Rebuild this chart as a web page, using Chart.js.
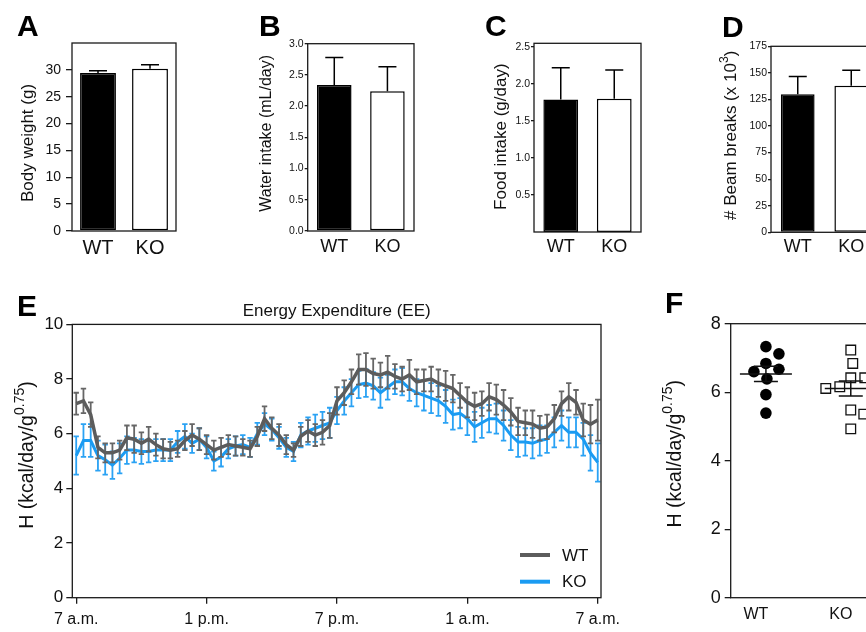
<!DOCTYPE html>
<html>
<head>
<meta charset="utf-8">
<title>WT vs KO metabolic phenotype</title>
<script src="https://cdn.jsdelivr.net/npm/chart.js@4.4.1/dist/chart.umd.min.js"></script>
<style>
  html, body { margin: 0; padding: 0; background: #fff; overflow: hidden; }
  #page { position: relative; width: 866px; height: 632px; overflow: hidden; }
  #page canvas { position: absolute; }
  .tag { position: absolute; font: bold 30px "Liberation Sans", Arial, sans-serif; line-height: 30px; color: #000; }
</style>
</head>
<body>
<div id="page">
  <canvas id="chartA" width="190" height="270" style="left:0px;top:0px"></canvas>
  <canvas id="chartB" width="190" height="270" style="left:240px;top:0px"></canvas>
  <canvas id="chartC" width="190" height="270" style="left:465px;top:0px"></canvas>
  <canvas id="chartD" width="200" height="270" style="left:690px;top:0px"></canvas>
  <canvas id="chartE" width="640" height="342" style="left:0px;top:290px"></canvas>
  <canvas id="chartF" width="260" height="342" style="left:640px;top:290px"></canvas>
  <div class="tag" style="left:17px;top:11px">A</div>
  <div class="tag" style="left:259px;top:11px">B</div>
  <div class="tag" style="left:485px;top:11px">C</div>
  <div class="tag" style="left:722px;top:12px">D</div>
  <div class="tag" style="left:17px;top:291px">E</div>
  <div class="tag" style="left:665px;top:288px">F</div>
</div>
<script>
// groups + panel A-D (mean, SEM)
const groups = ['WT', 'KO'];
const bodyWeight = [29.4, 30.2];
const bodyWeightSem = [0.43, 0.75];
const waterIntake = [2.34, 2.24];
const waterIntakeSem = [0.44, 0.39];
const foodIntake = [1.79, 1.80];
const foodIntakeSem = [0.43, 0.39];
const beamBreaks = [130, 138];
const beamBreaksSem = [16.7, 14.4];

// tick values / labels
const bodyWeightTicks = [0, 5, 10, 15, 20, 25, 30];
const waterTicks = [0, 0.5, 1, 1.5, 2, 2.5, 3];
const foodTicks = [0.5, 1, 1.5, 2, 2.5];
const beamTicks = [0, 25, 50, 75, 100, 125, 150, 175];
const eeTicks = [0, 2, 4, 6, 8, 10];
const hourTicks = [0, 6, 12, 18, 24];
const hourLabels = ['7 a.m.', '1 p.m.', '7 p.m.', '1 a.m.', '7 a.m.'];
const hTicks = [0, 2, 4, 6, 8];

// panel E: energy expenditure, 20 min bins from 7 a.m. to 7 a.m.
const binMinutes = 20;
const wtEE = [7.1, 7.2, 6.7, 5.5, 5.3, 5.3, 5.4, 5.85, 5.8, 5.65,
  5.8, 5.6, 5.45, 5.4, 5.45, 5.75, 5.95, 5.8, 5.6, 5.4,
  5.5, 5.6, 5.55, 5.5, 5.45, 5.9, 6.55, 6.2, 5.95, 5.6,
  5.4, 5.9, 6.1, 5.95, 6.05, 6.3, 7.2, 7.5, 7.9, 8.35,
  8.35, 8.2, 8.15, 8.25, 8.1, 8.0, 8.15, 7.9, 7.95, 8.0,
  7.85, 7.75, 7.65, 7.4, 7.15, 7.0, 7.1, 7.35, 7.25, 7.05,
  6.8, 6.45, 6.4, 6.35, 6.2, 6.25, 6.55, 7.1, 7.35, 7.15,
  6.5, 6.35, 6.5];
const wtEESem = [0.40, 0.45, 0.45, 0.40, 0.35, 0.35, 0.35, 0.45, 0.50, 0.40,
  0.45, 0.40, 0.35, 0.30, 0.30, 0.35, 0.40, 0.40, 0.35, 0.35,
  0.35, 0.35, 0.35, 0.30, 0.30, 0.35, 0.45, 0.40, 0.40, 0.35,
  0.25, 0.35, 0.40, 0.40, 0.45, 0.45, 0.50, 0.45, 0.45, 0.55,
  0.60, 0.55, 0.45, 0.60, 0.45, 0.45, 0.55, 0.45, 0.40, 0.45,
  0.50, 0.55, 0.50, 0.45, 0.55, 0.50, 0.45, 0.50, 0.55, 0.55,
  0.50, 0.50, 0.45, 0.50, 0.45, 0.45, 0.50, 0.45, 0.50, 0.45,
  0.60, 0.70, 0.75];
const koEE = [5.2, 5.75, 5.75, 5.2, 5.05, 4.85, 5.1, 5.4, 5.4, 5.35,
  5.35, 5.4, 5.4, 5.4, 5.7, 5.9, 5.65, 5.8, 5.5, 5.0,
  5.15, 5.45, 5.55, 5.6, 5.5, 6.0, 6.35, 6.15, 5.85, 5.5,
  5.35, 5.95, 6.1, 6.2, 6.3, 6.4, 6.85, 7.2, 7.5, 7.8,
  7.85, 7.75, 7.5, 7.7, 7.9, 7.9, 7.65, 7.5, 7.4, 7.3,
  7.2, 7.0, 6.7, 6.75, 6.55, 6.25, 6.4, 6.55, 6.55, 6.3,
  5.95, 5.7, 5.7, 5.65, 5.75, 5.8, 6.05, 6.3, 6.05, 6.05,
  5.8, 5.3, 4.95];
const koEESem = [0.70, 0.60, 0.60, 0.55, 0.55, 0.50, 0.55, 0.50, 0.45, 0.45,
  0.40, 0.40, 0.40, 0.40, 0.40, 0.45, 0.35, 0.40, 0.40, 0.35,
  0.35, 0.35, 0.35, 0.35, 0.35, 0.40, 0.40, 0.40, 0.40, 0.35,
  0.35, 0.45, 0.50, 0.50, 0.50, 0.55, 0.50, 0.50, 0.50, 0.50,
  0.50, 0.50, 0.55, 0.45, 0.45, 0.50, 0.45, 0.50, 0.55, 0.55,
  0.55, 0.60, 0.55, 0.55, 0.60, 0.55, 0.55, 0.50, 0.55, 0.55,
  0.55, 0.55, 0.50, 0.55, 0.55, 0.50, 0.55, 0.55, 0.55, 0.55,
  0.60, 0.65, 0.70];

// panel F: per mouse H
const wtH = [7.33, 7.12, 6.84, 6.67, 6.60, 6.39, 5.93, 5.39];
const koH = [7.23, 6.84, 6.42, 6.42, 6.16, 6.13, 6.11, 5.48, 5.36, 4.93];

const FONT = '"Liberation Sans", Arial, sans-serif';
Chart.defaults.font.family = FONT;
Chart.defaults.color = '#111';

//-------------------------------------------------------------------------------------
// plugins

function drawErrors(chart, index, o) {
    var ds = chart.data.datasets[index];
    if (!ds.errors) return;
    var meta = chart.getDatasetMeta(index);
    var y = chart.scales.y;
    var ctx = chart.ctx;
    ctx.save();
    ctx.strokeStyle = o.color || ds.errorColor || ds.borderColor;
    ctx.lineWidth = o.width;
    meta.data.forEach(function (el, i) {
        var v = typeof ds.data[i] === 'object' ? ds.data[i].y : ds.data[i];
        var top = y.getPixelForValue(v + ds.errors[i]);
        var bot = o.upOnly ? y.getPixelForValue(v) : y.getPixelForValue(v - ds.errors[i]);
        ctx.beginPath();
        ctx.moveTo(el.x, top); ctx.lineTo(el.x, bot);
        ctx.moveTo(el.x - o.cap, top); ctx.lineTo(el.x + o.cap, top);
        if (!o.upOnly) { ctx.moveTo(el.x - o.cap, bot); ctx.lineTo(el.x + o.cap, bot); }
        ctx.stroke();
    });
    ctx.restore();
}

const errorBars = {
    id: 'errorBars',
    beforeDatasetDraw: function (chart, args, o) { if (o.cap && o.under) drawErrors(chart, args.index, o); },
    afterDatasetDraw: function (chart, args, o) { if (o.cap && !o.under) drawErrors(chart, args.index, o); }
};

const frame = {
    id: 'frame',
    afterDatasetsDraw: function (chart) {
        var a = chart.chartArea, ctx = chart.ctx;
        ctx.save();
        ctx.strokeStyle = '#1a1a1a';
        ctx.lineWidth = 1.3;
        ctx.strokeRect(a.left, a.top, a.right - a.left, a.bottom - a.top);
        ctx.restore();
    }
};

// rotated y title with optional superscript
const yTitle = {
    id: 'yTitle',
    afterDraw: function (chart, args, o) {
        if (!o.text) return;
        var ctx = chart.ctx, a = chart.chartArea;
        var small = o.size * 0.72;
        ctx.save();
        ctx.font = o.size + 'px ' + FONT;
        var w1 = ctx.measureText(o.text).width;
        var w3 = o.tail ? ctx.measureText(o.tail).width : 0;
        ctx.font = small + 'px ' + FONT;
        var w2 = o.sup ? ctx.measureText(o.sup).width : 0;
        ctx.translate(a.left - o.offset, (a.top + a.bottom) / 2 + (o.dy || 0));
        ctx.rotate(-Math.PI / 2);
        ctx.fillStyle = '#111';
        ctx.textBaseline = 'middle';
        ctx.textAlign = 'left';
        var x = -(w1 + w2 + w3) / 2;
        ctx.font = o.size + 'px ' + FONT;
        ctx.fillText(o.text, x, 0);
        x += w1;
        if (o.sup) {
            ctx.font = small + 'px ' + FONT;
            ctx.fillText(o.sup, x, -o.size * 0.4);
            x += w2;
        }
        if (o.tail) {
            ctx.font = o.size + 'px ' + FONT;
            ctx.fillText(o.tail, x, 0);
        }
        ctx.restore();
    }
};

Chart.register(errorBars, frame, yTitle);

// legend drawn inside plot, bottom right (panel E)
const insideLegend = {
    id: 'insideLegend',
    afterDraw: function (chart, args, o) {
        var ctx = chart.ctx, a = chart.chartArea;
        ctx.save();
        ctx.font = o.size + 'px ' + FONT;
        ctx.textBaseline = 'middle';
        ctx.fillStyle = '#111';
        chart.data.datasets.forEach(function (ds, i) {
            var y = a.bottom - o.bottom + i * o.gap;
            ctx.strokeStyle = ds.borderColor;
            ctx.lineWidth = 4;
            ctx.beginPath();
            ctx.moveTo(a.right - o.right, y);
            ctx.lineTo(a.right - o.right + o.len, y);
            ctx.stroke();
            ctx.fillText(ds.label, a.right - o.right + o.len + 12, y + 1);
        });
        ctx.restore();
    }
};

// mean + SEM bars from the points (panel F)
const meanSem = {
    id: 'meanSem',
    afterDatasetsDraw: function (chart) {
        var ctx = chart.ctx, xs = chart.scales.x, ys = chart.scales.y;
        ctx.save();
        ctx.strokeStyle = '#111';
        ctx.lineWidth = 1.5;
        chart.data.datasets.forEach(function (ds, k) {
            var vals = ds.data.map(function (p) { return p.y; });
            var n = vals.length;
            var mean = vals.reduce(function (s, v) { return s + v; }, 0) / n;
            var sd = Math.sqrt(vals.reduce(function (s, v) { return s + (v - mean) * (v - mean); }, 0) / (n - 1));
            var sem = sd / Math.sqrt(n);
            var cx = xs.getPixelForValue(k + 1);
            var ym = ys.getPixelForValue(mean), yt = ys.getPixelForValue(mean + sem), yb = ys.getPixelForValue(mean - sem);
            ctx.beginPath();
            ctx.moveTo(cx - 26, ym); ctx.lineTo(cx + 26, ym);
            ctx.moveTo(cx, yt); ctx.lineTo(cx, yb);
            ctx.moveTo(cx - 12, yt); ctx.lineTo(cx + 12, yt);
            ctx.moveTo(cx - 12, yb); ctx.lineTo(cx + 12, yb);
            ctx.stroke();
        });
        ctx.restore();
    }
};

//-------------------------------------------------------------------------------------
// helpers

function yAxis(ticks, max, o) {
    return {
        min: 0,
        max: max,
        afterBuildTicks: function (s) { s.ticks = ticks.map(function (v) { return { value: v }; }); },
        afterFit: function (s) { s.width = o.width; },
        grid: { display: true, drawOnChartArea: false, drawTicks: true, tickLength: o.tickLength, color: '#1a1a1a', lineWidth: 1.3 },
        border: { display: false },
        ticks: { padding: o.padding, font: { size: o.font }, color: '#111', callback: o.fmt || function (v) { return v; } }
    };
}

function barPanel(id, values, errors, ticks, max, cfg) {
    return new Chart(document.getElementById(id), {
        type: 'bar',
        data: {
            labels: groups,
            datasets: [{
                data: values,
                errors: errors,
                backgroundColor: ['#000', '#fff'],
                borderColor: '#000',
                borderWidth: 1.5,
                borderSkipped: false,
                barPercentage: cfg.bar,
                categoryPercentage: 1
            }]
        },
        options: {
            responsive: false,
            animation: false,
            layout: { padding: cfg.pad },
            plugins: {
                legend: { display: false },
                tooltip: { enabled: false },
                errorBars: { cap: 9, width: 1.5, color: '#000', upOnly: true },
                yTitle: cfg.title
            },
            scales: {
                x: {
                    grid: { display: false, drawTicks: false },
                    border: { display: false },
                    afterFit: function (s) { s.height = cfg.xh; },
                    ticks: { padding: cfg.xpad, font: { size: cfg.xfont }, color: '#111' }
                },
                y: yAxis(ticks, max, cfg.y)
            }
        }
    });
}

// simple beeswarm: shift overlapping points sideways, using the chart's scales
function swarm(chart) {
    var xs = chart.scales.x, ys = chart.scales.y;
    chart.data.datasets.forEach(function (ds, k) {
        var d = ds.swarmSize;
        var cx = xs.getPixelForValue(k + 1);
        var placed = [];
        ds.data.forEach(function (p) {
            var py = ys.getPixelForValue(p.y);
            var off = 0;
            for (var n = 0; n < 80; n++) {
                off = (n % 2 ? 1 : -1) * Math.ceil(n / 2);
                var ok = placed.every(function (q) { return Math.hypot(q.x - off, q.y - py) >= d; });
                if (ok) break;
            }
            placed.push({ x: off, y: py });
            p.x = xs.getValueForPixel(cx + off);
        });
    });
    chart.update();
}

//-------------------------------------------------------------------------------------
// A - D

barPanel('chartA', bodyWeight, bodyWeightSem, bodyWeightTicks, 35, {
    bar: 0.69, pad: { left: 40, top: 43, right: 14, bottom: 0 }, xh: 39, xpad: 5, xfont: 20,
    y: { width: 32, tickLength: 6, padding: 5, font: 14 },
    title: { text: 'Body weight (g)', size: 17, offset: 44, dy: 6 }
});

barPanel('chartB', waterIntake, waterIntakeSem, waterTicks, 3, {
    bar: 0.65, pad: { left: 37.7, top: 43.7, right: 16, bottom: 0 }, xh: 39, xpad: 5, xfont: 18,
    y: { width: 30, tickLength: 3, padding: 1, font: 10.5, fmt: function (v) { return v.toFixed(1); } },
    title: { text: 'Water intake (mL/day)', size: 16, offset: 41, dy: -4 }
});

barPanel('chartC', foodIntake, foodIntakeSem, foodTicks, 2.55, {
    bar: 0.65, pad: { left: 39, top: 43.3, right: 14, bottom: 0 }, xh: 38, xpad: 4, xfont: 18,
    y: { width: 30, tickLength: 3, padding: 1, font: 10.5, fmt: function (v) { return v.toFixed(1); } },
    title: { text: 'Food intake (g/day)', size: 17, offset: 32.3, dy: -1 }
});

barPanel('chartD', beamBreaks, beamBreaksSem, beamTicks, 175, {
    bar: 0.63, pad: { left: 51, top: 46.3, right: 12, bottom: 0 }, xh: 37.7, xpad: 4, xfont: 18,
    y: { width: 30, tickLength: 3, padding: 1, font: 10.5 },
    title: { text: '# Beam breaks (x 10', sup: '3', tail: ')', size: 17, offset: 39.3, dy: -4 }
});

//-------------------------------------------------------------------------------------
// E - energy expenditure over 24 h

function toPoints(values) {
    return values.map(function (v, i) { return { x: i * binMinutes / 60, y: v }; });
}

new Chart(document.getElementById('chartE'), {
    type: 'line',
    data: {
        datasets: [
            { label: 'WT', data: toPoints(wtEE), errors: wtEESem, borderColor: '#5c5c5c', errorColor: '#666',
              borderWidth: 3.5, pointRadius: 0, tension: 0 },
            { label: 'KO', data: toPoints(koEE), errors: koEESem, borderColor: '#1a9bf2', errorColor: '#2aa2f4',
              borderWidth: 3, pointRadius: 0, tension: 0 }
        ]
    },
    options: {
        responsive: false,
        animation: false,
        layout: { padding: { left: 40, top: 0, right: 39, bottom: 0 } },
        plugins: {
            legend: { display: false },
            tooltip: { enabled: false },
            title: {
                display: true, text: 'Energy Expenditure (EE)', fullSize: false,
                font: { size: 17, weight: 'normal' }, color: '#111', padding: { top: 11, bottom: 3 }
            },
            errorBars: { cap: 2.7, width: 1.8, under: true },
            yTitle: { text: 'H (kcal/day/g', sup: '0.75', tail: ')', size: 19.5, offset: 44.3, dy: -6 },
            insideLegend: { size: 17, right: 81, len: 30, bottom: 42.7, gap: 26.7 }
        },
        scales: {
            x: {
                type: 'linear',
                min: -0.18,
                max: 24.15,
                afterBuildTicks: function (s) { s.ticks = hourTicks.map(function (v) { return { value: v }; }); },
                afterFit: function (s) { s.height = 34.3; },
                grid: { display: true, drawOnChartArea: false, drawTicks: true, tickLength: 6, color: '#1a1a1a', lineWidth: 1.3 },
                border: { display: false },
                ticks: { padding: 6, maxRotation: 0, font: { size: 16 }, color: '#111',
                    callback: function (v, i) { return hourLabels[i]; } }
            },
            y: yAxis(eeTicks, 10, { width: 32.3, tickLength: 6, padding: 3, font: 17 })
        }
    },
    plugins: [insideLegend]
});

//-------------------------------------------------------------------------------------
// F - per mouse H

var chartF = new Chart(document.getElementById('chartF'), {
    type: 'scatter',
    data: {
        datasets: [
            { label: 'WT', data: wtH.map(function (v) { return { x: 1, y: v }; }), swarmSize: 14,
              pointStyle: 'circle', pointRadius: 5.8, pointHoverRadius: 5.8, backgroundColor: '#000', borderColor: '#000', borderWidth: 0 },
            { label: 'KO', data: koH.map(function (v) { return { x: 2, y: v }; }), swarmSize: 13.5,
              pointStyle: 'rect', pointRadius: 6.8, pointHoverRadius: 6.8, backgroundColor: '#fff', borderColor: '#111', borderWidth: 1.3 }
        ]
    },
    options: {
        responsive: false,
        animation: false,
        layout: { padding: { left: 60.7, top: 33.7, right: 14, bottom: 0 } },
        plugins: {
            legend: { display: false },
            tooltip: { enabled: false },
            yTitle: { text: 'H (kcal/day/g', sup: '0.75', tail: ')', size: 19.5, offset: 54.7, dy: -7 }
        },
        scales: {
            x: {
                type: 'linear',
                min: 0.585,
                max: 2.415,
                afterBuildTicks: function (s) { s.ticks = [{ value: 1 }, { value: 2 }]; },
                afterFit: function (s) { s.height = 34.3; },
                grid: { display: false, drawTicks: false },
                border: { display: false },
                ticks: { padding: 7, labelOffset: -10, font: { size: 16 }, color: '#111',
                    callback: function (v, i) { return groups[i]; } }
            },
            y: yAxis(hTicks, 8, { width: 30, tickLength: 6, padding: 4, font: 18 })
        }
    },
    plugins: [meanSem]
});
swarm(chartF);
</script>
</body>
</html>
